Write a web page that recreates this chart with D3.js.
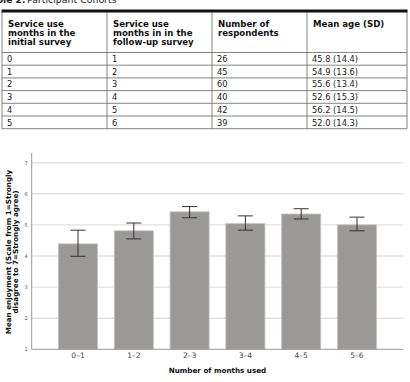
<!DOCTYPE html>
<html>
<head>
<meta charset="utf-8">
<script src="https://cdn.jsdelivr.net/npm/d3@7"></script>
<style>
  body { margin: 0; background: #fff; }
  svg { display: block; font-family: "DejaVu Sans", Verdana, sans-serif; }
</style>
</head>
<body>
<svg width="410" height="382"></svg>
<script>
// table data
var tableHeaders = [
  ['Service use', 'months in the', 'initial survey'],
  ['Service use', 'months in in the', 'follow-up survey'],
  ['Number of', 'respondents'],
  ['Mean age (SD)']
];
var initialMonths = ['0', '1', '2', '3', '4', '5'];
var followupMonths = ['1', '2', '3', '4', '5', '6'];
var respondents = ['26', '45', '60', '40', '42', '39'];
var meanAge = ['45.8 (14.4)', '54.9 (13.6)', '55.6 (13.4)', '52.6 (15.3)', '56.2 (14.5)', '52.0 (14.3)'];

// chart data
var categories = ['0\u20131', '1\u20132', '2\u20133', '3\u20134', '4\u20135', '5\u20136'];
var means = [4.39, 4.81, 5.42, 5.04, 5.35, 5.00];
var ciLow = [3.99, 4.55, 5.23, 4.83, 5.19, 4.81];
var ciHigh = [4.83, 5.06, 5.59, 5.29, 5.52, 5.25];
var yTicks = [1, 2, 3, 4, 5, 6, 7];

var svg = d3.select('svg');

// ---- table ----
// caption, cut off at the top edge like the scan
svg.append('text')
    .attr('x', 25.5)
    .attr('y', 3.3)
    .attr('text-anchor', 'end')
    .attr('font-size', 9.2)
    .attr('font-weight', 'bold')
    .attr('fill', '#222')
    .text('Table 2.');
svg.append('text')
    .attr('x', 27)
    .attr('y', 3.3)
    .attr('font-size', 9.4)
    .attr('fill', '#222')
    .text('Participant Cohorts');

var colX = [2, 107, 212, 307, 407];
var headTop = 12, headBottom = 52.5, rowH = 12.7;

var rows = initialMonths.map(function(d, i) {
  return [d, followupMonths[i], respondents[i], meanAge[i]];
});

var table = svg.append('g');

// header text
tableHeaders.forEach(function(lines, c) {
  table.append('g').selectAll('text')
    .data(lines)
    .enter()
    .append('text')
    .attr('x', colX[c] + 6)
    .attr('y', function(d, i) { return headTop + 14.5 + i * 9; })
    .attr('font-size', 8.6)
    .attr('font-weight', 'bold')
    .attr('fill', '#111')
    .text(function(d) { return d; });
});

// body rows
rows.forEach(function(r, i) {
  table.append('g').selectAll('text')
    .data(r)
    .enter()
    .append('text')
    .attr('x', function(d, c) { return colX[c] + 5; })
    .attr('y', headBottom + i * rowH + 9.5)
    .attr('font-size', 8.3)
    .attr('fill', '#222')
    .text(function(d) { return d; });
});

// grid lines of table
var hLines = [headBottom];
for (var i = 1; i <= rows.length; i++) hLines.push(headBottom + i * rowH);
table.selectAll('line.h')
  .data(hLines)
  .enter()
  .append('line')
  .attr('class', 'h')
  .attr('x1', colX[0]).attr('x2', colX[4])
  .attr('y1', function(d) { return d; }).attr('y2', function(d) { return d; })
  .attr('stroke', '#666')
  .attr('stroke-width', 0.8);

table.selectAll('line.v')
  .data(colX)
  .enter()
  .append('line')
  .attr('class', 'v')
  .attr('x1', function(d) { return d; }).attr('x2', function(d) { return d; })
  .attr('y1', headTop).attr('y2', hLines[hLines.length - 1])
  .attr('stroke', '#666')
  .attr('stroke-width', 0.8);

table.append('line')
  .attr('x1', colX[0] - 0.5).attr('x2', colX[4] + 0.5)
  .attr('y1', 11).attr('y2', 11)
  .attr('stroke', '#111')
  .attr('stroke-width', 3);

// ---- chart ----
var plotLeft = 31.7, plotRight = 403.3, plotBottom = 349.3, plotTop = 162.7;

var x = d3.scaleBand()
  .domain(categories)
  .range([plotLeft, plotRight])
  .paddingInner(0.3)
  .paddingOuter(0.48);

var y = d3.scaleLinear()
  .domain([1, 7])
  .range([plotBottom, plotTop]);

var chart = svg.append('g');

// gridlines
chart.selectAll('line.grid')
  .data(yTicks.slice(1))
  .enter()
  .append('line')
  .attr('class', 'grid')
  .attr('x1', plotLeft).attr('x2', plotRight)
  .attr('y1', function(d) { return y(d); })
  .attr('y2', function(d) { return y(d); })
  .attr('stroke', '#e2e2e2')
  .attr('stroke-width', 1.4);

// bars
chart.selectAll('rect')
  .data(means)
  .enter()
  .append('rect')
  .attr('x', function(d, i) { return x(categories[i]); })
  .attr('y', function(d) { return y(d); })
  .attr('width', x.bandwidth())
  .attr('height', function(d) { return y(1) - y(d); })
  .attr('fill', '#9b9898')
  .attr('stroke', '#c4c2c2')
  .attr('stroke-width', 0.8);

// error bars
var err = chart.selectAll('g.err')
  .data(means)
  .enter()
  .append('g')
  .attr('class', 'err')
  .attr('transform', function(d, i) {
    return 'translate(' + (x(categories[i]) + x.bandwidth() / 2) + ',0)';
  });

err.append('line')
  .attr('x1', 0).attr('x2', 0)
  .attr('y1', function(d, i) { return y(ciLow[i]); })
  .attr('y2', function(d, i) { return y(ciHigh[i]); })
  .attr('stroke', '#333')
  .attr('stroke-width', 1);

err.append('line')
  .attr('x1', -7.5).attr('x2', 7.5)
  .attr('y1', function(d, i) { return y(ciLow[i]); })
  .attr('y2', function(d, i) { return y(ciLow[i]); })
  .attr('stroke', '#333')
  .attr('stroke-width', 1);

err.append('line')
  .attr('x1', -7.5).attr('x2', 7.5)
  .attr('y1', function(d, i) { return y(ciHigh[i]); })
  .attr('y2', function(d, i) { return y(ciHigh[i]); })
  .attr('stroke', '#333')
  .attr('stroke-width', 1);

// y axis
var yAxis = chart.append('g')
  .attr('transform', 'translate(' + plotLeft + ',0)')
  .call(d3.axisLeft(y).tickValues(yTicks).tickFormat(d3.format('d')).tickSize(0).tickPadding(4));
yAxis.select('.domain').remove();
yAxis.selectAll('text')
  .attr('font-size', 5)
  .attr('fill', '#555')
  .attr('font-family', '"DejaVu Sans", sans-serif');

chart.append('line')
  .attr('x1', plotLeft).attr('x2', plotLeft)
  .attr('y1', 153).attr('y2', plotBottom)
  .attr('stroke', '#999')
  .attr('stroke-width', 1);

// x axis
var xAxis = chart.append('g')
  .attr('transform', 'translate(0,' + plotBottom + ')')
  .call(d3.axisBottom(x).tickSize(0).tickPadding(3));
xAxis.select('.domain').remove();
xAxis.selectAll('text')
  .attr('font-size', 7.5)
  .attr('fill', '#444')
  .attr('font-family', '"DejaVu Sans", sans-serif');

chart.append('line')
  .attr('x1', plotLeft).attr('x2', plotRight)
  .attr('y1', plotBottom).attr('y2', plotBottom)
  .attr('stroke', '#999')
  .attr('stroke-width', 1);

// axis titles
chart.append('text')
  .attr('x', (plotLeft + plotRight) / 2)
  .attr('y', 373)
  .attr('text-anchor', 'middle')
  .attr('font-size', 7.2)
  .attr('font-weight', 'bold')
  .attr('fill', '#111')
  .text('Number of months used');

chart.append('g')
  .attr('transform', 'translate(10.5,252) rotate(-90)')
  .selectAll('text')
  .data(['Mean enjoyment (Scale from 1=Strongly', 'disagree to 7=Strongly agree)'])
  .enter()
  .append('text')
  .attr('x', 0)
  .attr('y', function(d, i) { return i * 7.5; })
  .attr('text-anchor', 'middle')
  .attr('font-size', 7.2)
  .attr('font-weight', 'bold')
  .attr('fill', '#111')
  .text(function(d) { return d; });
</script>
</body>
</html>
